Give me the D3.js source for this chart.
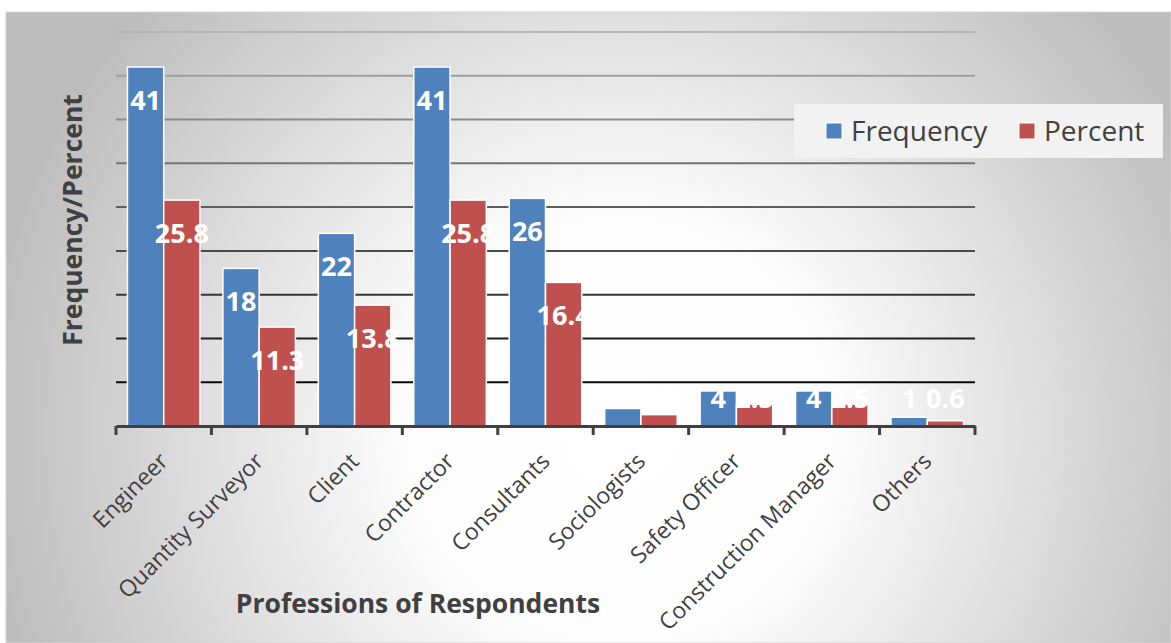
<!DOCTYPE html>
<html>
<head>
<meta charset="utf-8">
<script src="https://cdn.jsdelivr.net/npm/d3@7"></script>
<style>
  html, body { margin: 0; padding: 0; background: #ffffff; }
  svg { display: block; }
  text { font-family: "Open Sans", "DejaVu Sans", sans-serif; }
</style>
</head>
<body>
<svg id="chart" width="1171" height="643"></svg>
<script>
const categories = ["Engineer", "Quantity Surveyor", "Client", "Contractor", "Consultants",
  "Sociologists", "Safety Officer", "Construction Manager", "Others"];
const frequency = [41, 18, 22, 41, 26, 2, 4, 4, 1];
const percent = [25.8, 11.3, 13.8, 25.8, 16.4, 1.3, 2.5, 2.5, 0.6];
const seriesNames = ["Frequency", "Percent"];
const seriesColors = ["#4f81bd", "#c0504d"];
const yTicks = [0, 5, 10, 15, 20, 25, 30, 35, 40, 45];
const xTitle = "Professions of Respondents";
const yTitle = "Frequency/Percent";

const W = 1171, H = 643;
const svg = d3.select("#chart");
const defs = svg.append("defs");
const grad = defs.append("radialGradient").attr("id", "bg")
  .attr("gradientUnits", "userSpaceOnUse")
  .attr("cx", 620).attr("cy", 430).attr("r", 640).attr("fx", 620).attr("fy", 430);
grad.append("stop").attr("offset", 0).attr("stop-color", "#ffffff");
grad.append("stop").attr("offset", 0.33).attr("stop-color", "#fdfdfd");
grad.append("stop").attr("offset", 1).attr("stop-color", "#bdbdbd");

svg.append("rect").attr("x", 6).attr("y", 12).attr("width", W - 6).attr("height", H - 12)
  .attr("fill", "url(#bg)").attr("stroke", "#d4d4d4").attr("stroke-width", 1);

const plot = { left: 116, right: 975, top: 32, bottom: 426 };
const x0 = d3.scaleBand().domain(categories).range([plot.left, plot.right]).paddingInner(0.24).paddingOuter(0.12);
const x1 = d3.scaleBand().domain(seriesNames).range([0, x0.bandwidth()]).padding(0);
const xb = d3.scaleBand().domain(categories).range([plot.left, plot.right]);
const y = d3.scaleLinear().domain([0, 45]).range([plot.bottom, plot.top]);
const gridColor = d3.scaleLinear().domain([45, 5]).range(["#b4b4b4", "#0a0a0a"]);

// gridlines
svg.append("g").selectAll("line").data(yTicks.filter(d => d > 0)).join("line")
  .attr("x1", plot.left).attr("x2", plot.right)
  .attr("y1", d => y(d)).attr("y2", d => y(d))
  .attr("stroke", d => gridColor(d)).attr("stroke-width", 2);

// legend box (drawn over gridlines)
const lg = svg.append("g");
lg.append("rect").attr("x", 794).attr("y", 104).attr("width", 369).attr("height", 54).attr("fill", "#f2f2f2");
const legendItems = [{ name: seriesNames[0], color: seriesColors[0], x: 826 }, { name: seriesNames[1], color: seriesColors[1], x: 1019 }];
legendItems.forEach(it => {
  lg.append("rect").attr("x", it.x).attr("y", 123).attr("width", 16).attr("height", 16)
    .attr("fill", it.color).attr("stroke", "#ffffff").attr("stroke-width", 1);
  lg.append("text").attr("x", it.x + 25).attr("y", 141).attr("font-size", 28)
    .attr("fill", "#404040").text(it.name);
});

// bars
const data = categories.map((c, i) => ({ cat: c, vals: [frequency[i], percent[i]] }));
const groups = svg.append("g").selectAll("g").data(data).join("g")
  .attr("transform", d => `translate(${x0(d.cat)},0)`);
groups.selectAll("rect").data(d => d.vals.map((v, j) => ({ v, s: seriesNames[j], c: seriesColors[j] }))).join("rect")
  .attr("x", d => x1(d.s)).attr("width", x1.bandwidth())
  .attr("y", d => y(d.v)).attr("height", d => plot.bottom - y(d.v))
  .attr("fill", d => d.c).attr("stroke", "#ffffff").attr("stroke-width", 1.5);

// axis
const xAxis = d3.axisBottom(xb).tickSize(0).tickFormat("");
const ax = svg.append("g").attr("transform", `translate(0,${plot.bottom})`).call(xAxis);
ax.select(".domain").attr("stroke", "#404040").attr("stroke-width", 3);
const bounds = categories.map(c => xb(c)).concat([plot.right]);
svg.append("g").selectAll("line").data(bounds).join("line")
  .attr("x1", d => d).attr("x2", d => d).attr("y1", plot.bottom).attr("y2", plot.bottom + 9)
  .attr("stroke", "#404040").attr("stroke-width", 3);

// tick labels
svg.append("g").selectAll("text").data(categories).join("text")
  .attr("transform", c => `translate(${xb(c) + xb.bandwidth() / 2 - 6},451) rotate(-45)`)
  .attr("text-anchor", "end").attr("dy", "0.72em").attr("font-size", 23).attr("fill", "#404040")
  .text(c => c);

// data labels
groups.selectAll("text").data(d => d.vals.map((v, j) => ({ v, s: seriesNames[j] }))).join("text")
  .attr("x", d => x1(d.s) + x1.bandwidth() / 2)
  .attr("y", d => Math.min(y(d.v) + 33, 398))
  .attr("dy", "0.36em")
  .attr("text-anchor", "middle").attr("font-size", 27).attr("font-weight", "bold").attr("fill", "#ffffff")
  .text(d => d.v);

// titles
svg.append("text").attr("x", 418).attr("y", 613).attr("text-anchor", "middle")
  .attr("font-size", 26.5).attr("font-weight", "bold").attr("fill", "#404040").text(xTitle);
svg.append("text").attr("transform", "translate(82,220) rotate(-90)").attr("text-anchor", "middle")
  .attr("font-size", 26.5).attr("font-weight", "bold").attr("fill", "#404040").text(yTitle);
</script>
</body>
</html>
